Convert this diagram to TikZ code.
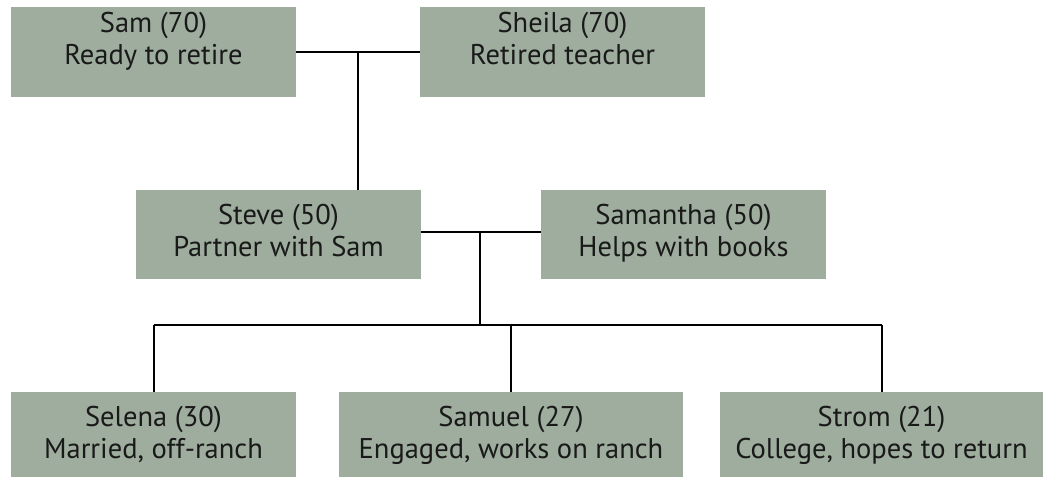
\documentclass[tikz,border=0pt]{standalone}
\usepackage{fontspec}
\setmainfont{PT Sans}
\definecolor{boxfill}{RGB}{158,173,158}
\begin{document}
\begin{tikzpicture}[x=1pt,y=-1pt,
  person/.style={fill=boxfill,draw=none,inner sep=0pt,minimum width=285pt},
  txt/.style={anchor=base,inner sep=0pt,font=\fontsize{28.5}{32}\selectfont,text=black!90},
  link/.style={draw=black,line width=2pt}]
\useasboundingbox (0,0) rectangle (1044,478);
% boxes
\node[person,minimum height=90pt] (sam) at (153.5,52) {};
\node[person,minimum height=90pt] (sheila) at (562.5,52) {};
\node[person,minimum height=89pt] (steve) at (278.5,234.5) {};
\node[person,minimum height=89pt] (samantha) at (683.5,234.5) {};
\node[person,minimum height=85pt] (selena) at (153.5,434.5) {};
\node[person,minimum height=85pt,minimum width=344pt] (samuel) at (511,434.5) {};
\node[person,minimum height=85pt,minimum width=323pt] (strom) at (881.5,434.5) {};
% texts
\node[txt] (sam1) at ([yshift=-26pt]sam.north) {Sam (70)};
\node[txt] (sam2) at ([yshift=-58pt]sam.north) {Ready to retire};
\node[txt] (sheila1) at ([yshift=-26pt]sheila.north) {Sheila (70)};
\node[txt] (sheila2) at ([yshift=-58pt]sheila.north) {Retired teacher};
\node[txt] (steve1) at ([yshift=-35pt]steve.north) {Steve (50)};
\node[txt] (steve2) at ([yshift=-67pt]steve.north) {Partner with Sam};
\node[txt] (samantha1) at ([yshift=-35pt]samantha.north) {Samantha (50)};
\node[txt] (samantha2) at ([yshift=-67pt]samantha.north) {Helps with books};
\node[txt] (selena1) at ([yshift=-35pt]selena.north) {Selena (30)};
\node[txt] (selena2) at ([yshift=-67pt]selena.north) {Married, off-ranch};
\node[txt] (samuel1) at ([yshift=-35pt]samuel.north) {Samuel (27)};
\node[txt] (samuel2) at ([yshift=-67pt]samuel.north) {Engaged, works on ranch};
\node[txt] (strom1) at ([yshift=-35pt]strom.north) {Strom (21)};
\node[txt] (strom2) at ([yshift=-67pt]strom.north) {College, hopes to return};
% connectors
\coordinate (j1) at (358,52);
\coordinate (j2) at (480,232);
\coordinate (j3) at (480,325);
\draw[link] (sam.east) -- (sheila.west);
\draw[link] (j1) -- (j1 |- steve.north);
\draw[link] (steve.east |- j2) -- (samantha.west |- j2);
\draw[link] (j2) -- (j3);
\draw[link] (selena.north |- j3) -- (strom.north |- j3);
\draw[link] (selena.north |- j3) -- (selena.north);
\draw[link] (samuel.north |- j3) -- (samuel.north);
\draw[link] (strom.north |- j3) -- (strom.north);
\end{tikzpicture}
\end{document}
